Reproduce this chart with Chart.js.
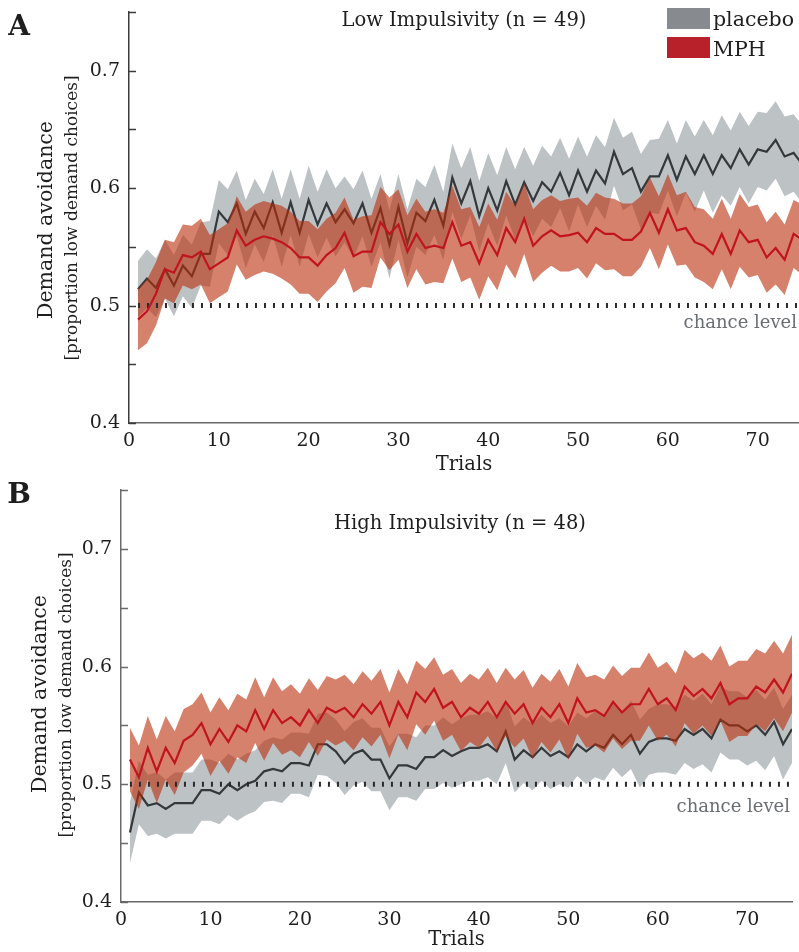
<!DOCTYPE html>
<html><head><meta charset="utf-8">
<script src="https://cdn.jsdelivr.net/npm/chart.js"></script>
<style>
html,body{margin:0;padding:0;background:#fff;}
#wrap{position:relative;width:799px;height:952px;overflow:hidden;font-family:'DejaVu Serif',serif;color:#1e1e1e;}
canvas{position:absolute;left:0;}
.t{position:absolute;white-space:nowrap;line-height:1;transform:translate(-50%,-50%);}
.rot{transform:translate(-50%,-50%) rotate(-90deg);}
.lft{transform:translate(0,-50%);}
.rgt{transform:translate(-100%,-50%);}
.box{position:absolute;width:43px;height:21px;}
</style></head>
<body><div id="wrap">
<canvas id="cA" width="799" height="478" style="top:0;width:799px;height:478px"></canvas>
<canvas id="cB" width="799" height="474" style="top:478px;width:799px;height:474px"></canvas>

<div class="t" style="left:19px;top:26px;font-weight:bold;font-size:28px;">A</div>
<div class="t" style="left:19px;top:494px;font-weight:bold;font-size:28px;">B</div>
<div class="t" style="left:464px;top:20px;font-size:19.5px;">Low Impulsivity (n = 49)</div>
<div class="t" style="left:460px;top:523px;font-size:19.5px;">High Impulsivity (n = 48)</div>

<div class="box" style="left:667px;top:8px;background:#878a8e;"></div>
<div class="box" style="left:667px;top:37px;background:#b9212a;"></div>
<div class="t lft" style="left:713px;top:19px;font-size:20.5px;">placebo</div>
<div class="t lft" style="left:713px;top:49px;font-size:20.5px;">MPH</div>

<div class="t rot" style="left:45px;top:220px;font-size:20.5px;">Demand avoidance</div>
<div class="t rot" style="left:71px;top:218px;font-size:17px;">[proportion low demand choices]</div>
<div class="t rot" style="left:39px;top:694px;font-size:20.5px;">Demand avoidance</div>
<div class="t rot" style="left:65px;top:695px;font-size:17px;">[proportion low demand choices]</div>

<div class="t rgt" style="left:797px;top:322px;font-size:18px;color:#6a6d71;">chance level</div>
<div class="t rgt" style="left:790px;top:806px;font-size:18px;color:#6a6d71;">chance level</div>
</div>
<script>
const trials = Array.from({length:75},(_,i)=>i+1);
const chanceLevel = 0.5;
const xTicksStep = 10;
const yTickLabels = ['0.4','0.5','0.6','0.7'];

// Panel A: Low Impulsivity
const lowPlaceboMean = [0.514,0.523,0.515,0.531,0.517,0.534,0.525,0.544,0.544,0.580,
0.571,0.587,0.561,0.580,0.566,0.588,0.562,0.588,0.562,0.590,
0.569,0.587,0.571,0.582,0.570,0.587,0.562,0.583,0.552,0.584,
0.553,0.579,0.572,0.590,0.568,0.609,0.587,0.606,0.576,0.600,
0.581,0.606,0.586,0.605,0.589,0.605,0.597,0.613,0.594,0.615,
0.597,0.615,0.604,0.631,0.612,0.617,0.597,0.610,0.610,0.628,
0.607,0.627,0.612,0.628,0.612,0.628,0.617,0.633,0.620,0.633,
0.631,0.641,0.627,0.630,0.620];
const lowPlaceboSem = [0.024,0.025,0.025,0.025,0.026,0.026,0.027,0.027,0.028,0.027,
0.028,0.028,0.029,0.028,0.029,0.028,0.029,0.028,0.029,0.029,
0.028,0.029,0.029,0.028,0.029,0.028,0.029,0.029,0.029,0.028,
0.029,0.029,0.029,0.030,0.029,0.029,0.030,0.029,0.030,0.030,
0.030,0.029,0.030,0.030,0.030,0.031,0.030,0.030,0.031,0.029,
0.030,0.030,0.031,0.029,0.031,0.031,0.032,0.031,0.032,0.030,
0.031,0.031,0.032,0.030,0.033,0.034,0.032,0.032,0.033,0.032,
0.033,0.033,0.034,0.033,0.033];
const lowMphMean = [0.488,0.495,0.510,0.531,0.528,0.543,0.541,0.546,0.531,0.536,
0.541,0.564,0.551,0.556,0.559,0.557,0.554,0.549,0.541,0.541,
0.534,0.543,0.549,0.562,0.542,0.546,0.546,0.571,0.561,0.569,
0.546,0.561,0.549,0.551,0.549,0.571,0.551,0.554,0.536,0.556,
0.543,0.566,0.554,0.574,0.551,0.559,0.564,0.559,0.560,0.562,
0.554,0.566,0.561,0.561,0.556,0.556,0.563,0.579,0.562,0.582,
0.564,0.566,0.554,0.551,0.544,0.561,0.544,0.564,0.554,0.556,
0.541,0.549,0.539,0.561,0.556];
const lowMphSem = [0.026,0.027,0.027,0.025,0.026,0.026,0.027,0.028,0.029,0.029,
0.029,0.029,0.029,0.030,0.030,0.030,0.031,0.031,0.031,0.031,
0.031,0.031,0.030,0.030,0.031,0.030,0.031,0.030,0.031,0.030,
0.031,0.030,0.031,0.031,0.030,0.031,0.031,0.030,0.031,0.031,
0.030,0.031,0.031,0.030,0.031,0.031,0.030,0.030,0.031,0.030,
0.031,0.030,0.031,0.030,0.031,0.031,0.030,0.030,0.031,0.030,
0.030,0.031,0.030,0.031,0.030,0.030,0.030,0.031,0.030,0.030,
0.030,0.031,0.030,0.029,0.030];

// Panel B: High Impulsivity
const highPlaceboMean = [0.459,0.493,0.482,0.484,0.479,0.484,0.484,0.484,0.495,0.495,
0.492,0.500,0.495,0.500,0.503,0.511,0.513,0.511,0.518,0.518,
0.516,0.534,0.534,0.528,0.518,0.526,0.529,0.521,0.521,0.505,
0.516,0.516,0.513,0.523,0.523,0.529,0.524,0.528,0.531,0.531,
0.534,0.528,0.545,0.521,0.529,0.523,0.531,0.524,0.528,0.523,
0.534,0.528,0.534,0.531,0.542,0.534,0.542,0.526,0.536,0.539,
0.539,0.537,0.547,0.542,0.547,0.539,0.555,0.550,0.550,0.545,
0.550,0.542,0.553,0.534,0.547];
const highPlaceboSem = [0.026,0.027,0.026,0.026,0.025,0.026,0.026,0.026,0.026,0.026,
0.026,0.026,0.026,0.026,0.026,0.026,0.027,0.027,0.026,0.026,
0.027,0.026,0.027,0.027,0.027,0.027,0.027,0.027,0.027,0.027,
0.027,0.027,0.027,0.027,0.027,0.028,0.027,0.028,0.028,0.028,
0.028,0.028,0.027,0.028,0.028,0.028,0.028,0.028,0.028,0.026,
0.027,0.028,0.028,0.028,0.028,0.028,0.029,0.029,0.028,0.029,
0.029,0.029,0.029,0.029,0.030,0.029,0.028,0.029,0.029,0.029,
0.030,0.030,0.029,0.030,0.029];
const highMphMean = [0.521,0.506,0.531,0.511,0.531,0.518,0.537,0.542,0.552,0.534,
0.547,0.536,0.550,0.545,0.563,0.547,0.563,0.552,0.557,0.550,
0.563,0.552,0.565,0.561,0.565,0.557,0.568,0.560,0.570,0.550,
0.570,0.557,0.578,0.570,0.581,0.565,0.570,0.557,0.565,0.560,
0.570,0.557,0.570,0.560,0.568,0.552,0.565,0.557,0.568,0.552,
0.573,0.561,0.563,0.558,0.570,0.561,0.568,0.568,0.581,0.568,
0.573,0.563,0.583,0.575,0.581,0.573,0.586,0.568,0.573,0.573,
0.583,0.578,0.589,0.578,0.594];
const highMphSem = [0.027,0.027,0.027,0.027,0.027,0.027,0.027,0.026,0.026,0.027,
0.027,0.027,0.027,0.027,0.028,0.027,0.028,0.027,0.028,0.027,
0.027,0.028,0.027,0.028,0.028,0.028,0.028,0.028,0.028,0.028,
0.028,0.028,0.027,0.028,0.027,0.028,0.028,0.029,0.029,0.029,
0.029,0.029,0.029,0.029,0.029,0.030,0.029,0.030,0.030,0.031,
0.030,0.030,0.030,0.031,0.031,0.031,0.031,0.031,0.031,0.031,
0.031,0.031,0.031,0.032,0.031,0.032,0.032,0.032,0.032,0.032,
0.032,0.033,0.033,0.033,0.033];

const FONT = 'DejaVu Serif';
const pts = v => trials.map((t,i)=>({x:t,y:v[i]}));
const edge = (m,s,sg) => trials.map((t,i)=>({x:t,y:m[i]+sg*s[i]}));

const inTicks = {
  id:'inTicks',
  afterDraw(chart){
    const y = chart.scales.y, ctx = chart.ctx, a = chart.chartArea;
    ctx.save();
    ctx.strokeStyle = chart.options.scales.y.border.color;
    ctx.lineWidth = 1.5;
    y.ticks.forEach(t=>{
      const py = Math.round(y.getPixelForValue(t.value))+0.5;
      ctx.beginPath(); ctx.moveTo(a.left, py); ctx.lineTo(a.left+7, py); ctx.stroke();
    });
    ctx.restore();
  }
};

function yLabel(v){ const s = (Math.round(v*100)/100).toFixed(1); return yTickLabels.includes(s) && Math.abs(v*10-Math.round(v*10))<1e-6 ? s : ''; }

function panel(id, pm, ps, mm, ms, o){
  const none = 'rgba(0,0,0,0)';
  const base = {pointRadius:0, pointHoverRadius:0, tension:0};
  return new Chart(document.getElementById(id), {
    type:'line',
    data:{datasets:[
      {...base, label:'placebo upper', data:edge(pm,ps,1), borderColor:none, borderWidth:0, fill:false, order:7},
      {...base, label:'placebo', data:edge(pm,ps,-1), borderColor:none, borderWidth:0, backgroundColor:'#bdc2c5', fill:{target:0}, order:6},
      {...base, label:'placebo mean', data:pts(pm), borderColor:'#34383b', borderWidth:2.2, fill:false, order:5},
      {...base, label:'MPH upper', data:edge(mm,ms,1), borderColor:none, borderWidth:0, fill:false, order:4.5},
      {...base, label:'MPH', data:edge(mm,ms,-1), borderColor:none, borderWidth:0, backgroundColor:'rgba(185,45,10,0.6)', fill:{target:3}, order:4},
      {...base, label:'chance level', data:trials.map(t=>({x:t,y:chanceLevel})), borderColor:'#2a2a2a', borderWidth:5, borderDash:[2,7], borderCapStyle:'butt', fill:false, order:3},
      {...base, label:'MPH mean', data:pts(mm), borderColor:'#c1141e', borderWidth:2.2, fill:false, order:1}
    ]},
    options:{
      responsive:false, animation:false, devicePixelRatio:1,
      layout:{padding:{top:12, right:o.rightPad, left:0, bottom:0}},
      plugins:{legend:{display:false}, tooltip:{enabled:false}},
      scales:{
        x:{type:'linear', min:0, max:o.xMax,
          afterFit(s){ s.height = o.xH; s.paddingLeft = 0; s.paddingRight = 0; },
          border:{display:true, color:'#676767', width:1.5},
          grid:{drawOnChartArea:false, drawTicks:false},
          ticks:{stepSize:xTicksStep, includeBounds:false, padding:7, color:'#1e1e1e', maxRotation:0, autoSkip:false, font:{family:FONT, size:19}},
          title:{display:true, text:'Trials', color:'#1e1e1e', font:{family:FONT, size:19.5}, padding:{top:0, bottom:o.tPad}}
        },
        y:{type:'linear', min:0.4, max:0.75,
          afterFit(s){ s.width = o.yW; s.paddingTop = 0; s.paddingBottom = 0; },
          border:{display:true, color:o.yColor, width:1.5},
          grid:{drawOnChartArea:false, drawTicks:false},
          ticks:{stepSize:0.05, padding:9, color:'#1e1e1e', autoSkip:false, font:{family:FONT, size:19}, callback:yLabel}
        }
      }
    },
    plugins:[inTicks]
  });
}

panel('cA', lowPlaceboMean, lowPlaceboSem, lowMphMean, lowMphSem, {xMax:74.6, rightPad:0, xH:55, yW:129, tPad:1, yColor:'#3a3a3a'});
panel('cB', highPlaceboMean, highPlaceboSem, highMphMean, highMphSem, {xMax:75, rightPad:7, xH:50, yW:121, tPad:0, yColor:'#6a6a6a'});
</script>
</body></html>
